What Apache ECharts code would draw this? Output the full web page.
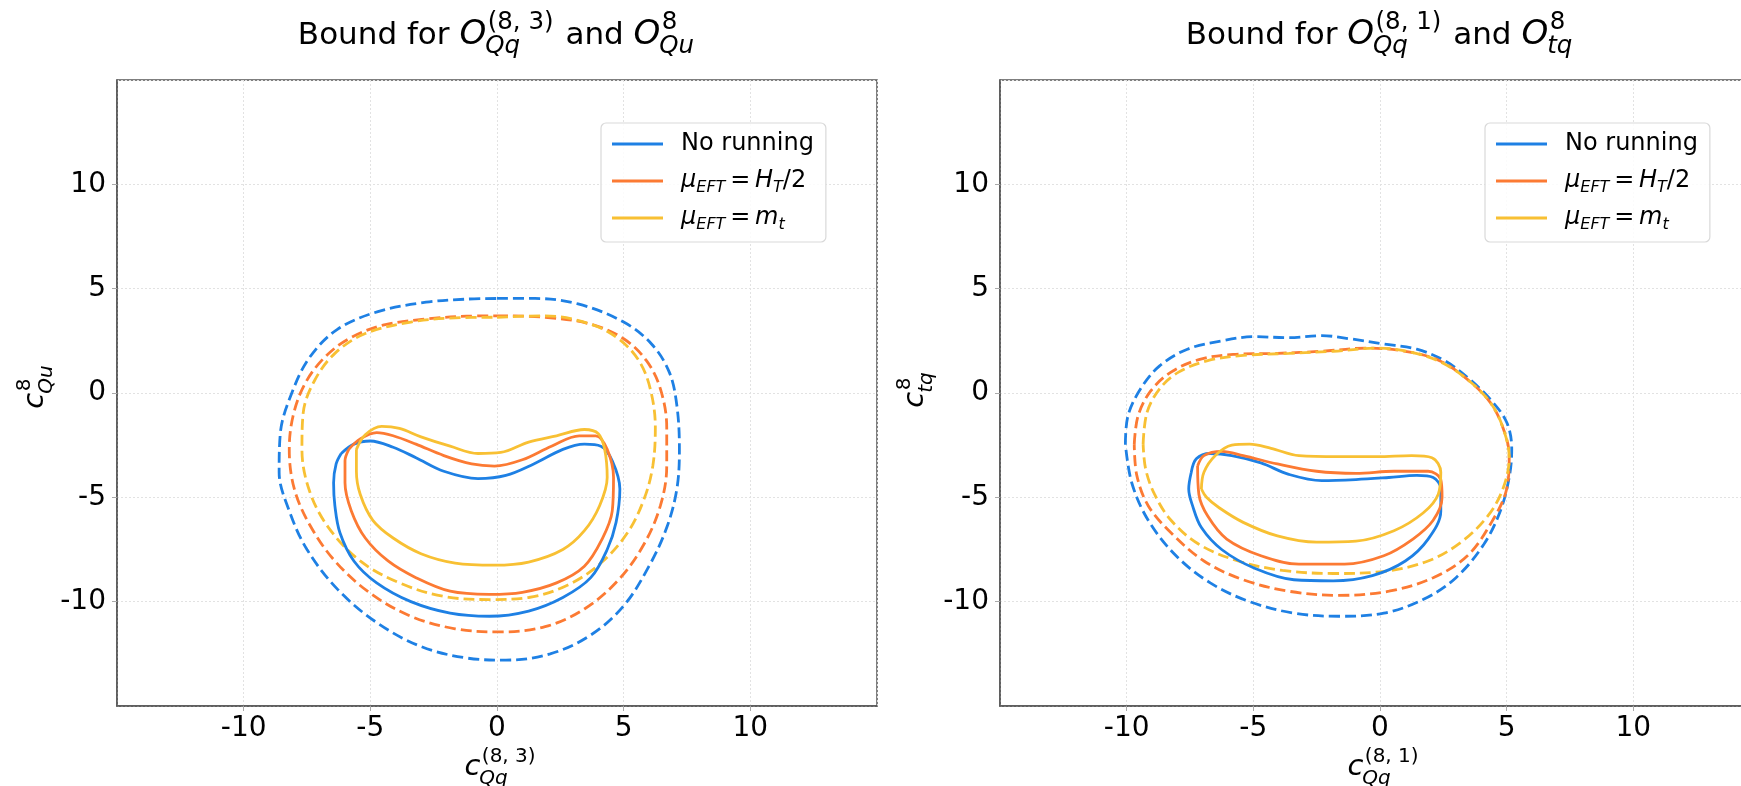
<!DOCTYPE html>
<html>
<head>
<meta charset="utf-8">
<script src="https://cdn.jsdelivr.net/npm/echarts@6/dist/echarts.min.js"></script>
<style>html,body{margin:0;padding:0;background:#fff}#c{width:1741px;height:786px}</style>
</head>
<body>
<div id="c"></div>
<script>
// ---------------- DATA ----------------
const seriesNames = ['No running', 'μEFT = HT/2', 'μEFT = mt'];
const tickValues = [-10, -5, 0, 5, 10];

// Left panel: c_Qq^(8,3) vs c_Qu^8
const L_noRun_dash = [[0,4.53],[1.5,4.53],[3.2,4.27],[5.0,3.4],[6.1,2.35],[6.8,1.0],[7.1,-0.6],[7.2,-2.7],[7.1,-4.6],[6.7,-6.45],[6.0,-8.3],[5.0,-10.2],[3.7,-11.6],[2.1,-12.5],[0.35,-12.8],[-1.2,-12.7],[-3.0,-12.15],[-4.75,-11.0],[-6.3,-9.4],[-7.5,-7.5],[-8.2,-5.65],[-8.6,-3.8],[-8.55,-1.9],[-8.1,0.0],[-7.4,1.7],[-6.3,3.05],[-4.7,3.9],[-2.8,4.35],[-1.2,4.5],[0,4.53]];
const L_HT_dash = [[0,3.7],[1.9,3.63],[3.7,3.3],[5.0,2.6],[5.9,1.55],[6.45,0.2],[6.7,-1.65],[6.7,-3.5],[6.45,-5.4],[5.8,-7.25],[4.8,-8.95],[3.45,-10.35],[1.9,-11.2],[0.1,-11.45],[-1.65,-11.3],[-3.4,-10.7],[-5.0,-9.6],[-6.4,-8.05],[-7.4,-6.3],[-8.0,-4.6],[-8.2,-2.7],[-8.05,-1.1],[-7.6,0.4],[-6.85,1.65],[-5.85,2.6],[-4.5,3.25],[-2.75,3.55],[-1.2,3.68],[0,3.7]];
const L_mt_dash = [[0,3.63],[1.9,3.7],[3.7,3.3],[4.8,2.6],[5.6,1.55],[6.05,0.2],[6.25,-1.65],[6.15,-3.5],[5.8,-5.1],[5.15,-6.7],[4.1,-8.15],[2.8,-9.2],[1.25,-9.8],[-0.3,-9.9],[-2.1,-9.75],[-3.85,-9.1],[-5.4,-8.05],[-6.65,-6.45],[-7.4,-4.7],[-7.7,-2.7],[-7.65,-0.95],[-7.2,0.6],[-6.4,1.9],[-5.2,2.85],[-3.4,3.4],[-1.65,3.6],[0,3.63]];
const L_noRun_solid = [[-6.15,-2.9],[-5.65,-2.45],[-5.0,-2.3],[-4.1,-2.6],[-3.2,-3.1],[-2.1,-3.75],[-0.75,-4.1],[0.35,-3.95],[1.45,-3.4],[2.6,-2.7],[3.45,-2.45],[4.1,-2.55],[4.55,-3.25],[4.85,-4.6],[4.7,-6.2],[4.35,-7.5],[3.7,-8.85],[2.6,-9.8],[1.25,-10.45],[-0.3,-10.7],[-1.85,-10.55],[-3.4,-10.0],[-4.75,-9.1],[-5.65,-8.05],[-6.2,-6.7],[-6.4,-5.4],[-6.45,-4.3],[-6.35,-3.4],[-6.15,-2.9]];
const L_HT_solid = [[-5.85,-2.7],[-5.4,-2.2],[-4.75,-1.9],[-4.1,-2.05],[-3.2,-2.45],[-2.1,-3.0],[-1.0,-3.4],[-0.1,-3.5],[1.0,-3.2],[2.15,-2.55],[3.25,-2.05],[3.9,-2.05],[4.35,-2.7],[4.6,-4.05],[4.55,-5.65],[4.15,-7.0],[3.45,-8.3],[2.35,-9.1],[1.0,-9.55],[-0.3,-9.65],[-1.85,-9.5],[-3.2,-8.85],[-4.3,-8.05],[-5.2,-6.95],[-5.75,-5.65],[-6.0,-4.3],[-6.0,-3.25],[-5.85,-2.7]];
const L_mt_solid = [[-5.55,-2.7],[-5.2,-2.0],[-4.55,-1.6],[-3.85,-1.7],[-3.0,-2.1],[-1.85,-2.55],[-0.75,-2.9],[0.15,-2.85],[1.25,-2.35],[2.35,-2.05],[3.45,-1.75],[4.0,-1.95],[4.25,-2.7],[4.35,-4.05],[4.05,-5.4],[3.45,-6.6],[2.6,-7.5],[1.25,-8.1],[-0.1,-8.25],[-1.65,-8.15],[-3.0,-7.7],[-4.1,-6.95],[-4.9,-6.1],[-5.4,-4.85],[-5.55,-3.75],[-5.55,-2.7]];

// Right panel: c_Qq^(8,1) vs c_tq^8
const R_noRun_dash = [[-10.05,-2.45],[-9.95,-1.1],[-9.45,0.2],[-8.7,1.3],[-7.6,2.1],[-6.25,2.5],[-4.95,2.7],[-3.6,2.65],[-2.3,2.75],[-1.2,2.6],[0.15,2.35],[1.45,2.1],[2.55,1.55],[3.45,0.75],[4.35,-0.3],[5.0,-1.4],[5.2,-2.7],[5.1,-4.05],[4.75,-5.65],[4.1,-7.25],[3.0,-8.85],[1.7,-9.9],[0.15,-10.55],[-1.65,-10.7],[-3.4,-10.55],[-5.15,-10.0],[-6.7,-9.1],[-8.05,-7.8],[-9.15,-6.1],[-9.8,-4.3],[-10.05,-2.45]];
const R_HT_dash = [[-9.7,-2.45],[-9.55,-1.1],[-9.05,0.1],[-8.25,1.0],[-7.15,1.6],[-5.8,1.85],[-4.05,1.9],[-2.3,2.0],[-0.55,2.15],[1.0,2.0],[2.35,1.55],[3.45,0.65],[4.35,-0.45],[4.85,-1.65],[5.1,-3.0],[5.0,-4.6],[4.4,-6.2],[3.45,-7.8],[2.1,-8.85],[0.35,-9.5],[-1.65,-9.7],[-3.6,-9.5],[-5.4,-8.95],[-6.95,-8.05],[-8.25,-6.7],[-9.15,-5.4],[-9.6,-3.95],[-9.7,-2.45]];
const R_mt_dash = [[-9.35,-2.45],[-9.2,-0.95],[-8.7,0.2],[-7.95,1.0],[-6.8,1.55],[-5.4,1.8],[-3.6,1.9],[-1.85,2.0],[-0.1,2.15],[1.25,1.95],[2.45,1.45],[3.45,0.65],[4.35,-0.45],[4.85,-1.65],[5.1,-3.1],[4.85,-4.6],[4.25,-5.9],[3.2,-7.15],[1.9,-8.05],[0.15,-8.55],[-1.85,-8.65],[-3.85,-8.5],[-5.6,-8.05],[-7.15,-7.25],[-8.25,-6.1],[-8.9,-4.85],[-9.25,-3.65],[-9.35,-2.45]];
const R_noRun_solid = [[-7.45,-3.8],[-7.25,-3.15],[-6.7,-2.9],[-5.85,-3.0],[-4.7,-3.35],[-3.6,-3.9],[-2.3,-4.2],[-0.95,-4.15],[0.35,-4.05],[1.45,-3.95],[2.1,-4.05],[2.4,-4.6],[2.4,-5.65],[1.9,-7.0],[1.0,-8.05],[-0.3,-8.75],[-1.85,-9.0],[-3.4,-8.95],[-4.95,-8.4],[-6.25,-7.5],[-7.05,-6.45],[-7.4,-5.4],[-7.55,-4.6],[-7.45,-3.8]];
const R_HT_solid = [[-7.2,-3.5],[-6.95,-3.0],[-6.25,-2.8],[-5.4,-3.0],[-4.05,-3.4],[-2.5,-3.75],[-0.95,-3.85],[0.55,-3.75],[1.9,-3.75],[2.4,-4.15],[2.45,-5.0],[2.1,-6.1],[1.3,-7.0],[0.15,-7.8],[-1.4,-8.2],[-3.2,-8.2],[-4.7,-7.8],[-6.05,-7.0],[-6.8,-5.9],[-7.15,-4.85],[-7.2,-3.5]];
const R_mt_solid = [[-7.05,-4.6],[-6.95,-3.8],[-6.5,-3.0],[-5.85,-2.5],[-5.15,-2.45],[-4.3,-2.65],[-3.2,-3.0],[-1.65,-3.05],[-0.1,-3.05],[1.25,-3.0],[2.05,-3.1],[2.4,-3.8],[2.3,-4.85],[1.7,-5.75],[0.55,-6.6],[-0.95,-7.1],[-2.5,-7.15],[-4.05,-6.85],[-5.4,-6.2],[-6.35,-5.5],[-6.85,-5.0],[-7.05,-4.6]];

// ---------------- STYLE / LAYOUT ----------------
const COLORS = ['#1e80e4', '#fc7a33', '#f8c033'];
const FONT = 'DejaVu Sans';
const GRIDS = [{left: 117, top: 80, width: 760, height: 626}, {left: 1000, top: 80, width: 760, height: 626}];

const mctx = document.createElement('canvas').getContext('2d');
function tw(s, size, it) { mctx.font = (it ? 'italic ' : '') + size + 'px "' + FONT + '"'; return mctx.measureText(s).width; }

// tokens: {t, it, size} main text; {sup, sub, supIt, subIt} stacked scripts
function buildMath(tokens, F, S, raise, drop) {
  let x = 0; const items = [];
  tokens.forEach(tk => {
    if (tk.t !== undefined) {
      const sz = tk.size || F;
      items.push({s: tk.t, x: x, size: sz, it: !!tk.it, dy: 0});
      x += tw(tk.t, sz, tk.it);
    } else {
      let w1 = 0, w2 = 0;
      if (tk.sup) { items.push({s: tk.sup, x: x + 1.5, size: S, it: !!tk.supIt, dy: -raise}); w1 = tw(tk.sup, S, tk.supIt) + 1.5; }
      if (tk.sub) { items.push({s: tk.sub, x: x - 1, size: S, it: !!tk.subIt, dy: drop}); w2 = tw(tk.sub, S, tk.subIt) - 1; }
      x += Math.max(w1, w2) + (tk.gap || 0);
    }
  });
  const W = x;
  return items.map(o => ({
    type: 'text', silent: true,
    x: o.x - W / 2, y: o.dy - 0.346 * o.size,
    style: {text: o.s, fontSize: o.size, fontFamily: FONT, fontStyle: o.it ? 'italic' : 'normal',
            fill: '#000', align: 'left', verticalAlign: 'middle'}
  }));
}

const titleL = [{t: 'Bound for '}, {t: 'O', it: true, size: 34}, {sup: '(8, 3)', sub: 'Qq', subIt: true, gap: 2}, {t: ' and '}, {t: 'O', it: true, size: 34}, {sup: '8', sub: 'Qu', subIt: true}];
const titleR = [{t: 'Bound for '}, {t: 'O', it: true, size: 34}, {sup: '(8, 1)', sub: 'Qq', subIt: true, gap: 2}, {t: ' and '}, {t: 'O', it: true, size: 34}, {sup: '8', sub: 'tq', subIt: true}];
const xNameL = [{t: 'c', it: true}, {sup: '(8, 3)', sub: 'Qq', subIt: true}];
const xNameR = [{t: 'c', it: true}, {sup: '(8, 1)', sub: 'Qq', subIt: true}];
const yNameL = [{t: 'c', it: true}, {sup: '8', sub: 'Qu', subIt: true}];
const yNameR = [{t: 'c', it: true}, {sup: '8', sub: 'tq', subIt: true}];

const graphic = [
  {type: 'group', x: 496, y: 46.5, children: buildMath(titleL, 31, 24.5, 15.5, 9)},
  {type: 'group', x: 1379, y: 46.5, children: buildMath(titleR, 31, 24.5, 15.5, 9)},
  {type: 'group', x: 500, y: 778, children: buildMath(xNameL, 29, 20, 14, 8)},
  {type: 'group', x: 1383, y: 778, children: buildMath(xNameR, 29, 20, 14, 8)},
  {type: 'group', x: 46, y: 387, rotation: Math.PI / 2, children: buildMath(yNameL, 29, 20, 14, 8)},
  {type: 'group', x: 926, y: 390, rotation: Math.PI / 2, children: buildMath(yNameR, 29, 20, 14, 8)}
];

function axisCommon() {
  return {
    type: 'value', min: -15, max: 15, interval: 5,
    axisLine: {show: true, onZero: false, lineStyle: {color: '#555', width: 1.5}},
    axisTick: {show: true, inside: false, length: 5, lineStyle: {color: '#aaa', width: 1}},
    axisLabel: {show: true, showMinLabel: false, showMaxLabel: false, fontSize: 28, fontFamily: FONT, color: '#000',
                formatter: v => (tickValues.indexOf(v) >= 0 ? String(v) : '')},
    splitLine: {show: true, lineStyle: {color: '#e2e2e2', width: 1, type: [2, 2]}}
  };
}
const xAxes = [0, 1].map(i => Object.assign(axisCommon(), {gridIndex: i, position: 'bottom'}));
xAxes.forEach(a => { a.axisLabel.margin = 9; });
const yAxes = [0, 1].map(i => Object.assign(axisCommon(), {gridIndex: i, position: 'left'}));
yAxes.forEach(a => { a.axisLabel.margin = 11; });

const curves = [
  [L_noRun_solid, 0, 0, false], [L_HT_solid, 1, 0, false], [L_mt_solid, 2, 0, false],
  [L_noRun_dash, 0, 0, true], [L_HT_dash, 1, 0, true], [L_mt_dash, 2, 0, true],
  [R_noRun_solid, 0, 1, false], [R_HT_solid, 1, 1, false], [R_mt_solid, 2, 1, false],
  [R_noRun_dash, 0, 1, true], [R_HT_dash, 1, 1, true], [R_mt_dash, 2, 1, true]
];
const series = curves.map(([data, ci, gi, dashed]) => ({
  type: 'line', name: seriesNames[ci], xAxisIndex: gi, yAxisIndex: gi,
  data: data, showSymbol: false, symbol: 'none', smooth: 0.35, clip: true,
  color: COLORS[ci],
  lineStyle: {color: COLORS[ci], width: 2.8, type: dashed ? [11, 5] : 'solid'},
  emphasis: {disabled: true}, animation: false, z: dashed ? 2 : 3
}));

const legendFmt = {
  'No running': '{n|No running}',
  'μEFT = HT/2': '{i|μ}{s|EFT}{n|\u2009=\u2009}{i|H}{s|T}{n|/2}',
  'μEFT = mt': '{i|μ}{s|EFT}{n|\u2009=\u2009}{i|m}{s|t}'
};
function legendAt(left) {
  return {
    orient: 'vertical', left: left, top: 123, padding: [6, 12, 9, 11],
    itemWidth: 51, itemHeight: 3, itemGap: 7, icon: 'rect',
    backgroundColor: 'rgba(255,255,255,0.85)', borderColor: '#d9d9d9', borderWidth: 1.2, borderRadius: 5,
    data: seriesNames.map(n => ({name: n, icon: 'rect'})),
    formatter: n => legendFmt[n],
    selectedMode: false,
    textStyle: {
      padding: [0, 0, 0, 13], fontSize: 24, fontFamily: FONT, color: '#000', lineHeight: 30,
      rich: {
        n: {fontSize: 24, fontFamily: FONT, color: '#000', lineHeight: 30},
        i: {fontSize: 24, fontFamily: FONT, fontStyle: 'italic', color: '#000', lineHeight: 30},
        s: {fontSize: 16, fontFamily: FONT, fontStyle: 'italic', color: '#000', lineHeight: 19, verticalAlign: 'bottom'}
      }
    }
  };
}

const option = {
  backgroundColor: '#fff',
  animation: false,
  grid: GRIDS.map(g => Object.assign({show: true, borderColor: '#555', borderWidth: 1.5, backgroundColor: 'transparent', containLabel: false, outerBoundsMode: 'none'}, g)),
  xAxis: xAxes,
  yAxis: yAxes,
  legend: [legendAt(601), legendAt(1485)],
  graphic: graphic,
  series: series
};

const chart = echarts.init(document.getElementById('c'), null, {renderer: 'canvas'});
chart.setOption(option);
</script>
</body>
</html>
